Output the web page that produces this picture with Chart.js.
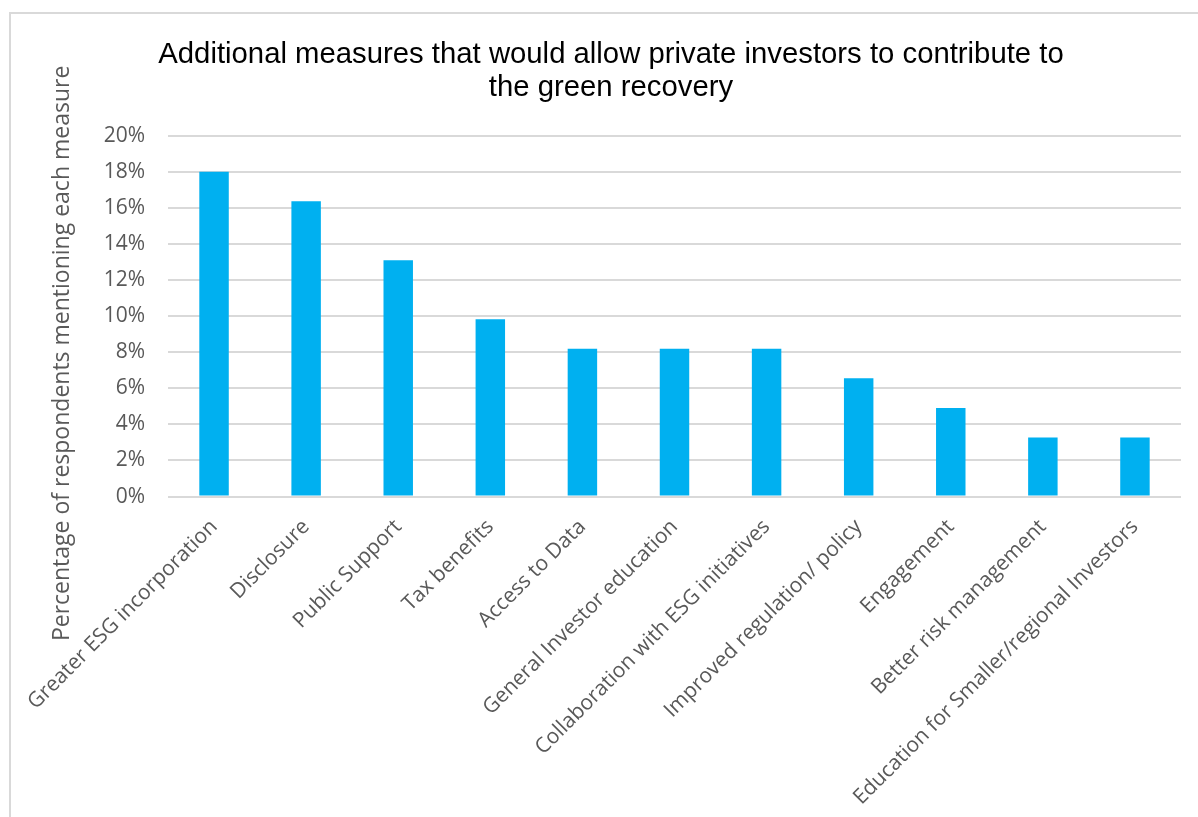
<!DOCTYPE html>
<html>
<head>
<meta charset="utf-8">
<script src="https://cdn.jsdelivr.net/npm/chart.js@4"></script>
<style>
  html, body { margin: 0; padding: 0; background: #fff; overflow: hidden; }
  #frame {
    position: absolute;
    left: 9px;
    top: 12px;
    width: 1200px;
    height: 820px;
    border-left: 2px solid #d9d9d9;
    border-top: 2px solid #d9d9d9;
  }
  #chartBox { position: absolute; left: 0; top: 0; width: 1189px; height: 806px; }
</style>
</head>
<body>
<div id="frame">
  <div id="chartBox"><canvas id="measuresChart"></canvas></div>
</div>
<script>
// Measures named by respondents
const categories = [
    'Greater ESG incorporation',
    'Disclosure',
    'Public Support',
    'Tax benefits',
    'Access to Data',
    'General Investor education',
    'Collaboration with ESG initiatives',
    'Improved regulation/ policy',
    'Engagement',
    'Better risk management',
    'Education for Smaller/regional Investors'
];

// Share of respondents mentioning each measure (%)
const shareMentioning = [18.03, 16.39, 13.11, 9.84, 8.20, 8.20, 8.20, 6.56, 4.92, 3.28, 3.28];

const titleLines = [
    'Additional measures that would allow private investors to contribute to',
    'the green recovery'
];
const yAxisTitle = 'Percentage of respondents mentioning each measure';
const yMin = 0;
const yMax = 20;
const yStep = 2;

const textGrey = '#595959';
const gridGrey = '#d9d9d9';
const barBlue = '#00b0f0';
const labelFont = "'Open Sans', sans-serif";

// Vertical axis title, drawn by hand so it can sit a little below the plot centre
const yTitlePlugin = {
    id: 'yTitle',
    afterDraw(chart) {
        const { ctx, chartArea } = chart;
        const cx = chartArea.left - 106;
        const cy = (chartArea.top + chartArea.bottom) / 2 + 37;
        ctx.save();
        ctx.translate(cx, cy);
        ctx.rotate(-Math.PI / 2);
        ctx.font = '23px ' + labelFont;
        ctx.fillStyle = textGrey;
        ctx.textAlign = 'center';
        ctx.textBaseline = 'middle';
        ctx.fillText(yAxisTitle, 0, 0);
        ctx.restore();
    }
};

const ctx = document.getElementById('measuresChart').getContext('2d');

new Chart(ctx, {
    type: 'bar',
    data: {
        labels: categories,
        datasets: [{
            label: 'Respondents',
            data: shareMentioning,
            backgroundColor: barBlue,
            borderWidth: 0,
            categoryPercentage: 1,
            barPercentage: 0.32
        }]
    },
    plugins: [yTitlePlugin],
    options: {
        responsive: true,
        maintainAspectRatio: false,
        animation: false,
        layout: {
            padding: { left: 30, right: 19, top: 0, bottom: 0 }
        },
        plugins: {
            legend: { display: false },
            tooltip: { enabled: false },
            title: {
                display: true,
                text: titleLines,
                color: '#000',
                font: { family: "'Liberation Sans', Arial, sans-serif", size: 29.3, weight: 'normal', lineHeight: 1.13 },
                padding: { top: 24, bottom: 32 }
            }
        },
        scales: {
            x: {
                grid: { display: false },
                border: { display: false },
                ticks: {
                    color: textGrey,
                    font: { family: labelFont, size: 21 },
                    minRotation: 45,
                    maxRotation: 45,
                    autoSkip: false,
                    padding: 10
                },
                // labels hang below their ticks; no extra side room needed
                afterFit(scale) {
                    scale.paddingLeft = 0;
                    scale.paddingRight = 0;
                }
            },
            y: {
                min: yMin,
                max: yMax,
                border: { display: false },
                grid: { color: gridGrey, lineWidth: 2, drawTicks: false },
                ticks: {
                    stepSize: yStep,
                    color: textGrey,
                    font: { family: labelFont, size: 21 },
                    padding: 23,
                    callback: v => v + '%'
                },
                afterFit(scale) {
                    scale.width = 127;
                }
            }
        }
    }
});
</script>
</body>
</html>
